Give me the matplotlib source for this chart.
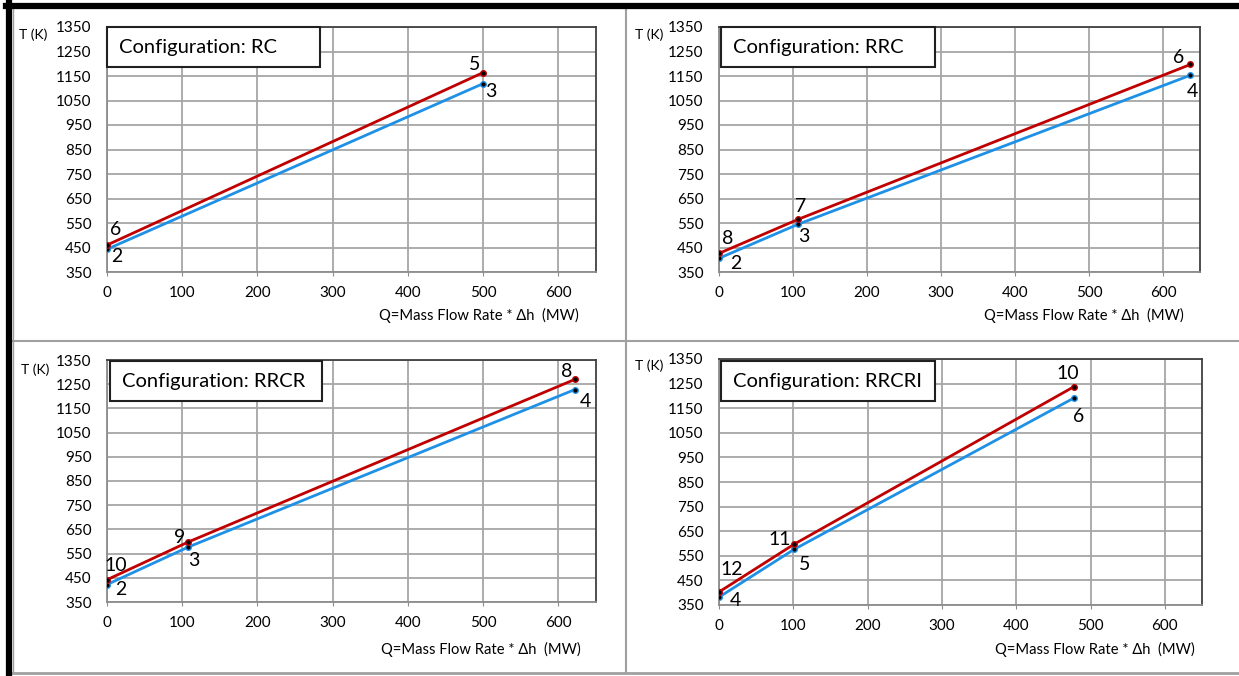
import matplotlib
matplotlib.use("Agg")
import matplotlib.pyplot as plt
from matplotlib.lines import Line2D
from matplotlib.patches import Rectangle

# data
configs = ["RC", "RRC", "RRCR", "RRCRI"]

hot_q = [[0, 500], [0, 107, 637], [0, 108, 622], [0, 101, 478]]
hot_t = [[460, 1164], [426, 565, 1197], [442, 598, 1270], [403, 597, 1238]]
hot_lbl = [["6", "5"], ["8", "7", "6"], ["10", "9", "8"], ["12", "11", "10"]]

cold_q = [[0, 500], [0, 107, 637], [0, 108, 622], [0, 101, 478]]
cold_t = [[443, 1119], [406, 545, 1153], [422, 577, 1228], [382, 576, 1192]]
cold_lbl = [["2", "3"], ["2", "3", "4"], ["2", "3", "4"], ["4", "5", "6"]]

# label offsets in pixels (dx, dy up)
hot_off = [[(9, 16), (-9, 8)], [(9, 15), (2, 13), (-12, 7)],
           [(9, 14), (-9, 4), (-8, 8)], [(13, 22), (-14, 5), (-6, 13)]]
cold_off = [[(10, -7), (8, -8)], [(17, -5), (6, -12), (2, -16)],
            [(14, -5), (6, -13), (10, -12)], [(16, -3), (11, -15), (4, -19)]]

x_ticks = [0, 100, 200, 300, 400, 500, 600]
y_ticks = [350, 450, 550, 650, 750, 850, 950, 1050, 1150, 1250, 1350]

RED = "#C00000"
BLUE = "#1E90E6"
FONT = "Lato"

W, H = 1239, 676
fig = plt.figure(figsize=(W / 100, H / 100), dpi=100)
plt.rcParams["font.family"] = FONT


def fx(px):
    return px / W


def fy(py):
    return 1 - py / H


# axes boxes in pixels: left, top, right, bottom
boxes = [(107, 27, 596, 272), (719, 27, 1200, 272),
         (107, 360, 596, 602), (719, 359, 1202, 605)]
title_boxes = [(107, 27, 320, 67), (721, 27, 935, 67),
               (110, 361, 322, 401), (721, 361, 935, 401)]
xlabel_pos = [(579, 315), (1184, 315), (581, 649), (1195, 649)]
ylabel_pos = [(19, 35), (635, 35), (21, 370), (635, 366)]

for i in range(4):
    l, t, r, b = boxes[i]
    ax = fig.add_axes([fx(l), fy(b), fx(r) - fx(l), fy(t) - fy(b)])
    ax.set_xlim(0, 650)
    ax.set_ylim(350, 1350)
    ax.set_xticks(x_ticks)
    ax.set_yticks(y_ticks)
    ax.grid(True, color="#A6A6A6", linewidth=1.3)
    ax.set_axisbelow(True)
    for s in ["top", "right"]:
        ax.spines[s].set_color("#404040")
        ax.spines[s].set_linewidth(1.3)
    for s in ["left", "bottom"]:
        ax.spines[s].set_color("#8C8C8C")
        ax.spines[s].set_linewidth(1.3)
    ax.tick_params(axis="y", length=0, pad=11, labelsize=11)
    ax.tick_params(axis="x", length=3, pad=7, labelsize=11, color="#8C8C8C")

    ax.plot(cold_q[i], cold_t[i], color=BLUE, lw=2, marker="o", ms=4,
            mfc="black", mec=BLUE, mew=1, zorder=3)
    ax.plot(hot_q[i], hot_t[i], color=RED, lw=2, marker="o", ms=4,
            mfc="black", mec=RED, mew=1, zorder=4)

    for q, tt, lab, off in zip(hot_q[i], hot_t[i], hot_lbl[i], hot_off[i]):
        ax.annotate(lab, (q, tt), xytext=off, textcoords="offset pixels",
                    ha="center", va="center", fontsize=14, annotation_clip=False)
    for q, tt, lab, off in zip(cold_q[i], cold_t[i], cold_lbl[i], cold_off[i]):
        ax.annotate(lab, (q, tt), xytext=off, textcoords="offset pixels",
                    ha="center", va="center", fontsize=14, annotation_clip=False)

    # configuration box
    bl, bt, br, bb = title_boxes[i]
    fig.add_artist(Rectangle((fx(bl), fy(bb)), fx(br) - fx(bl), fy(bt) - fy(bb),
                             transform=fig.transFigure, facecolor="white",
                             edgecolor="#202020", linewidth=1.5, zorder=5))
    fig.text(fx(bl + 12), fy((bt + bb) / 2), "Configuration: " + configs[i],
             ha="left", va="center", fontsize=14.5, zorder=6)

    fig.text(fx(xlabel_pos[i][0]), fy(xlabel_pos[i][1]),
             "Q=Mass Flow Rate * Δh  (MW)", ha="right", va="center", fontsize=10.6)
    fig.text(fx(ylabel_pos[i][0]), fy(ylabel_pos[i][1]), "T (K)",
             ha="left", va="center", fontsize=10)

# outer frame and panel separators
gray = "#A0A0A0"
fig.add_artist(Line2D([fx(13), 1], [fy(341), fy(341)], color=gray, lw=1.5))
fig.add_artist(Line2D([fx(626), fx(626)], [fy(9), fy(673)], color=gray, lw=1.5))
fig.add_artist(Line2D([fx(13), 1], [fy(673), fy(673)], color=gray, lw=2))
fig.add_artist(Line2D([fx(13), fx(13)], [fy(9), fy(673)], color=gray, lw=1))
fig.add_artist(Line2D([fx(6), 1], [fy(6), fy(6)], color="black", lw=4.5))
fig.add_artist(Line2D([fx(9), fx(9)], [fy(3), fy(676)], color="black", lw=4.5))

fig.savefig("out.png", dpi=100)
